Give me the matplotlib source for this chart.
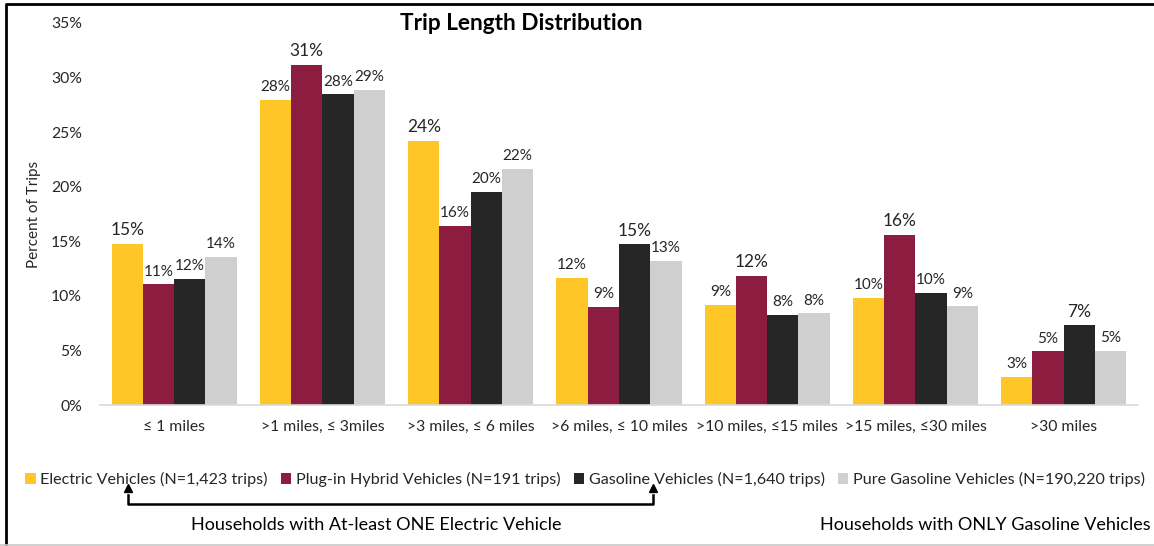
import numpy as np
import matplotlib
matplotlib.use("Agg")
import matplotlib.pyplot as plt
from matplotlib.patches import Patch
from matplotlib.lines import Line2D

plt.rcParams['font.family'] = ['Lato', 'DejaVu Sans']

categories = ["≤ 1 miles", ">1 miles, ≤ 3miles", ">3 miles, ≤ 6 miles", ">6 miles, ≤ 10 miles",
              ">10 miles, ≤15 miles", ">15 miles, ≤30 miles", ">30 miles"]

# share of trips, percent
ev = [14.75, 27.95, 24.19, 11.64, 9.16, 9.83, 2.57]
phev = [11.06, 31.18, 16.4, 9.0, 11.85, 15.6, 4.92]
gas = [11.54, 28.47, 19.52, 14.72, 8.25, 10.29, 7.3]
pure_gas = [13.56, 28.89, 21.65, 13.19, 8.4, 9.04, 4.98]

series_names = ["Electric Vehicles (N=1,423 trips)", "Plug-in Hybrid Vehicles (N=191 trips)",
                "Gasoline Vehicles (N=1,640 trips)", "Pure Gasoline Vehicles (N=190,220 trips)"]
colors = ["#FFC627", "#8C1D40", "#262626", "#D0CFD0"]

data = np.array([ev, phev, gas, pure_gas])
x = np.arange(len(categories))
w = 0.211

fig = plt.figure(figsize=(11.54, 5.46), dpi=100)
ax = fig.add_axes([0.0867, 0.2582, 0.8993, 0.6998])

group_max = data.max(axis=0)
for i, vals in enumerate(data):
    pos = x + (i - 1.5) * w
    ax.bar(pos, vals, width=w, color=colors[i], zorder=2)
    for xp, v, m in zip(pos, vals, group_max):
        big = v == m
        ax.annotate(f"{round(v)}%", (xp, v), xytext=(0, 4), textcoords="offset points",
                    ha="center", va="bottom", fontsize=12.5 if big else 11, color="#262626")

ax.set_xlim(-0.5, len(categories) - 0.5)
ax.set_ylim(0, 35)
ax.set_yticks(np.arange(0, 36, 5))
ax.set_yticklabels([f"{t}%" for t in range(0, 36, 5)])
ax.set_xticks(x)
ax.set_xticklabels(categories)
ax.tick_params(axis="both", length=0, labelsize=11.3, colors="#262626")
ax.tick_params(axis="y", pad=13)
ax.tick_params(axis="x", pad=11)
for s in ["top", "right", "left"]:
    ax.spines[s].set_visible(False)
ax.spines["bottom"].set_color("#D9D9D9")
ax.spines["bottom"].set_linewidth(1.2)

fig.text(0.0295, 0.608, "Percent of Trips", rotation=90, ha="center", va="center", fontsize=11, color="#262626")
fig.text(0.4515, 0.957, "Trip Length Distribution", ha="center", va="center", fontsize=16.3, fontweight="bold")

handles = [Patch(facecolor=c) for c in colors]
fig.legend(handles, series_names, loc="center", bbox_to_anchor=(0.507, 0.121), ncol=4, frameon=False,
           fontsize=11.6, handlelength=0.65, handleheight=0.65, handletextpad=0.3, columnspacing=0.8,
           labelcolor="#262626")

# bracket under the first three legend entries
y_line = 1 - 504 / 546
y_tip = 1 - 488 / 546
x_l, x_r = 128 / 1154, 653 / 1154
fig.add_artist(Line2D([x_l, x_l, x_r, x_r], [y_tip - 0.012, y_line, y_line, y_tip - 0.012],
                      color="black", lw=1.8))
for xa in (x_l, x_r):
    fig.add_artist(Line2D([xa], [y_tip], marker="^", color="black", markersize=6, lw=0))

fig.text(0.326, 1 - 525 / 546, "Households with At-least ONE Electric Vehicle", ha="center", va="center",
         fontsize=13, color="black")
fig.text(0.997, 1 - 525 / 546, "Households with ONLY Gasoline Vehicles", ha="right", va="center",
         fontsize=13, color="black")

# outer frame
fig.add_artist(Line2D([6 / 1154, 6 / 1154, 1], [1 - 545 / 546, 1 - 4 / 546, 1 - 4 / 546], color="black", lw=2))
fig.add_artist(Line2D([0, 1], [1 - 545 / 546, 1 - 545 / 546], color="#C8C8C8", lw=1.2))

fig.savefig("out.png", dpi=100)
